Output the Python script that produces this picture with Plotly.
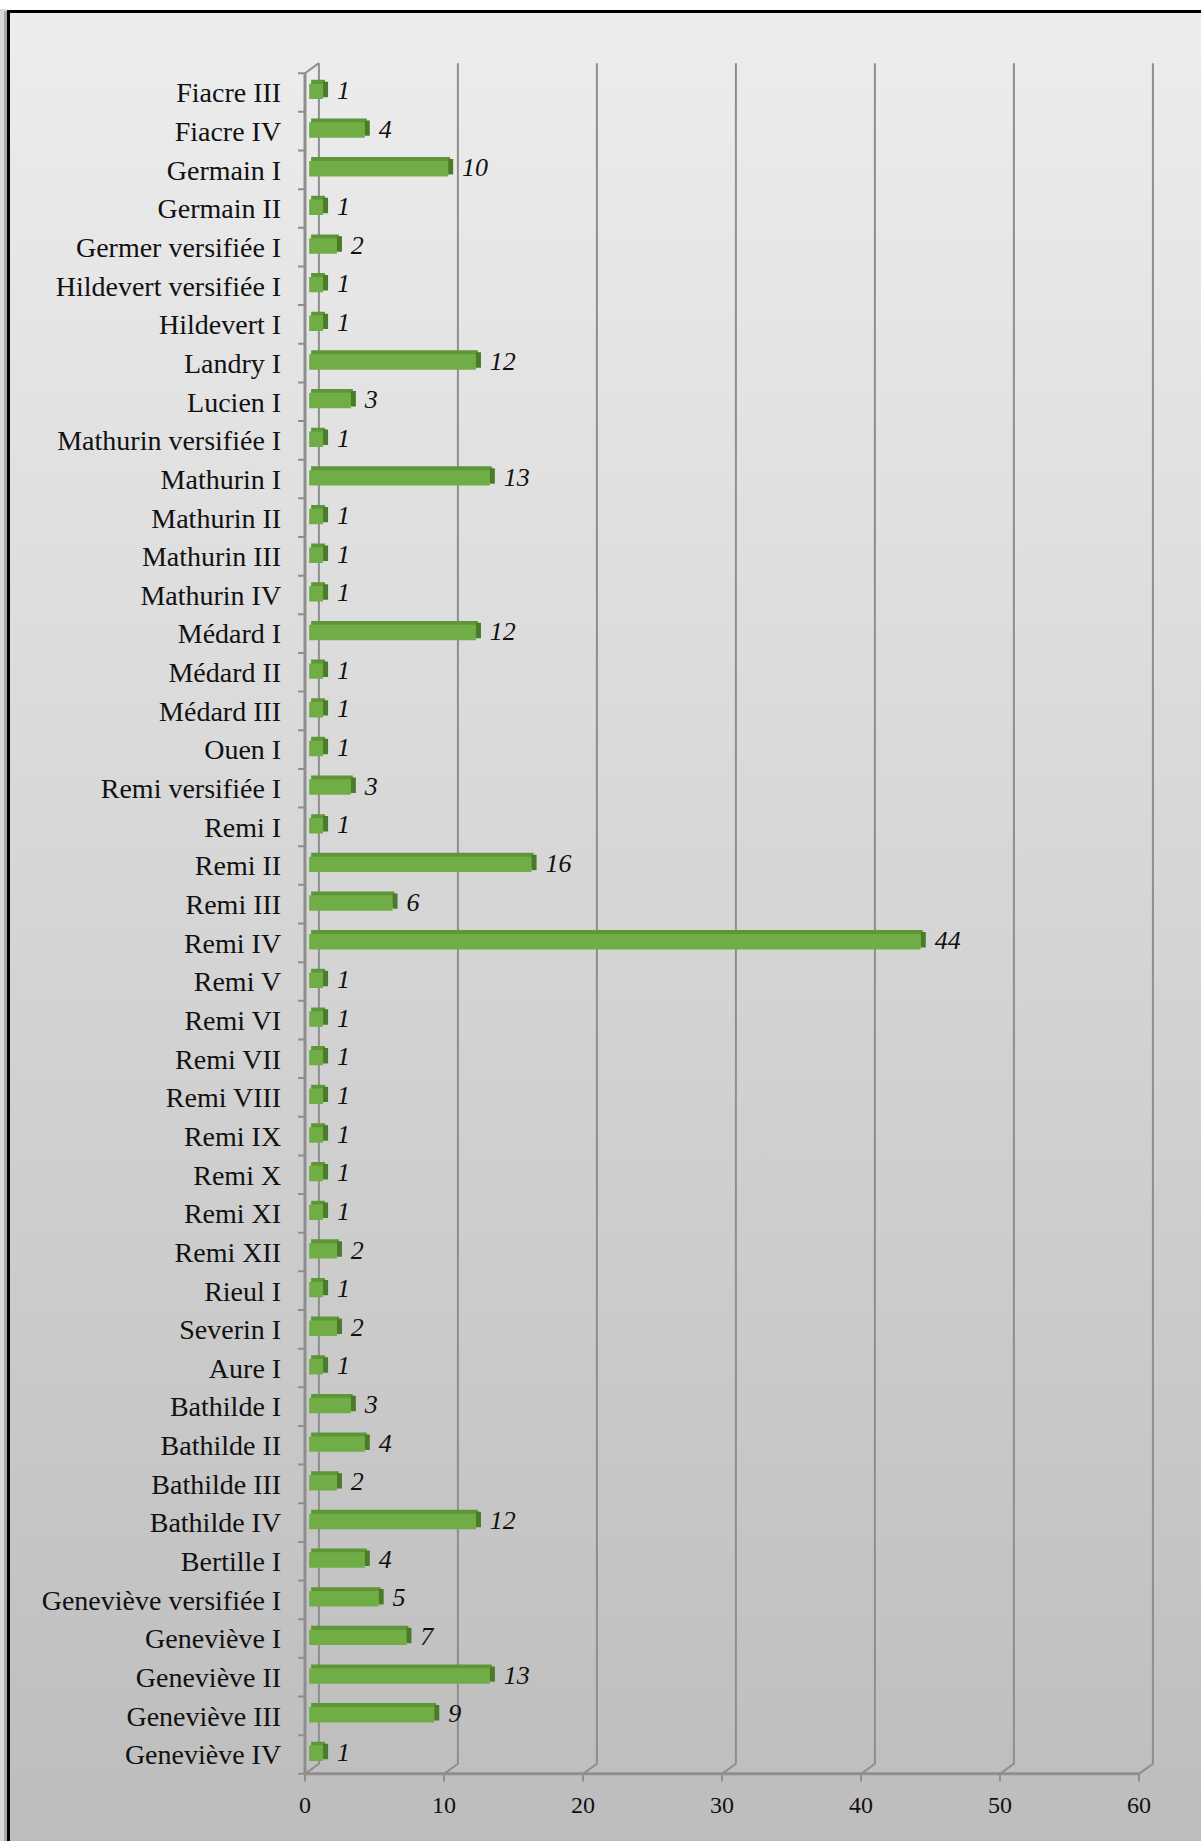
import plotly.graph_objects as go

# ---------------- data ----------------
names = ["Fiacre III", "Fiacre IV", "Germain I", "Germain II", "Germer versifiée I",
         "Hildevert versifiée I", "Hildevert I", "Landry I", "Lucien I",
         "Mathurin versifiée I", "Mathurin I", "Mathurin II", "Mathurin III",
         "Mathurin IV", "Médard I", "Médard II", "Médard III", "Ouen I",
         "Remi versifiée I", "Remi I", "Remi II", "Remi III", "Remi IV", "Remi V",
         "Remi VI", "Remi VII", "Remi VIII", "Remi IX", "Remi X", "Remi XI",
         "Remi XII", "Rieul I", "Severin I", "Aure I", "Bathilde I", "Bathilde II",
         "Bathilde III", "Bathilde IV", "Bertille I", "Geneviève versifiée I",
         "Geneviève I", "Geneviève II", "Geneviève III", "Geneviève IV"]
values = [1, 4, 10, 1, 2, 1, 1, 12, 3, 1, 13, 1, 1, 1, 12, 1, 1, 1, 3, 1, 16, 6, 44,
          1, 1, 1, 1, 1, 1, 1, 2, 1, 2, 1, 3, 4, 2, 12, 4, 5, 7, 13, 9, 1]
x_ticks = [0, 10, 20, 30, 40, 50, 60]

# ---------------- layout geometry (pixels) ----------------
W, H = 1201, 1841
X0_PX, PXU_X = 305.0, 13.9      # pixel of value 0, pixels per unit
Y0_PX, PXU_Y = 1754.5, 38.65    # pixel of last category centre, pixels per category
XMIN, XMAX = -1.5, 62.5
YMIN, YMAX = -0.8, 43.95
DX, DY = 1.0, 0.26              # 3-D depth offsets (units / categories)

xdom = [(X0_PX + XMIN * PXU_X) / W, (X0_PX + XMAX * PXU_X) / W]
ydom = [1 - (Y0_PX - YMIN * PXU_Y) / H, 1 - (Y0_PX - YMAX * PXU_Y) / H]

n = len(names)
pos = [n - 1 - i for i in range(n)]

FONT = "Liberation Serif"
GRID = "#8e8e8e"

fig = go.Figure()

# ---- background gradient (subplot 1, whole page) ----
bx0 = 10 / W
by1 = 1 - 13 / H
fig.add_trace(go.Scatter(
    x=[bx0, 1, 1, bx0, bx0], y=[0, 0, by1, by1, 0], mode="lines",
    line=dict(width=0), fill="toself",
    fillgradient=dict(type="vertical", colorscale=[[0, "#bdbdbd"], [1, "#ededed"]],
                      start=0, stop=by1),
    hoverinfo="skip", showlegend=False, xaxis="x", yaxis="y"))

# ---- 3-D frame / grid lines (subplot 2) ----
top_front = n - 0.5
bot_front = -0.5
gx, gy = [], []
for t in x_ticks:
    gx += [t, t + DX, t + DX, None]
    gy += [bot_front, bot_front + DY, top_front + DY, None]
gx += [0, DX, None]
gy += [top_front, top_front + DY, None]
for k in range(n + 1):
    gx += [-0.5, 0, None]
    gy += [k - 0.5, k - 0.5, None]
for t in x_ticks:
    gx += [t, t, None]
    gy += [bot_front, bot_front - 0.2, None]
fig.add_trace(go.Scatter(x=gx, y=gy, mode="lines", line=dict(color=GRID, width=2),
                         hoverinfo="skip", showlegend=False, xaxis="x2", yaxis="y2"))
fig.add_trace(go.Scatter(x=[0, 0, None, 0, x_ticks[-1]],
                         y=[top_front, bot_front, None, bot_front, bot_front],
                         mode="lines", line=dict(color=GRID, width=3),
                         hoverinfo="skip", showlegend=False, xaxis="x2", yaxis="y2"))

# ---- bars (subplot 3): top face, side face, front face ----
BASE = 0.3
SIDE = 0.36
fig.add_trace(go.Bar(orientation="h", y=pos, x=values, base=BASE + 0.14,
                     width=0.4, offset=-0.07, marker=dict(color="#5c9636", line=dict(width=0)),
                     hoverinfo="skip", showlegend=False, xaxis="x3", yaxis="y3"))
fig.add_trace(go.Bar(orientation="h", y=pos, x=[SIDE] * n, base=[BASE + v for v in values],
                     width=0.4, offset=-0.12, marker=dict(color="#4a7b29", line=dict(width=0)),
                     hoverinfo="skip", showlegend=False, xaxis="x3", yaxis="y3"))
fig.add_trace(go.Bar(orientation="h", y=pos, x=values, base=BASE,
                     width=0.4, offset=-0.17, marker=dict(color="#70ad47", line=dict(width=0)),
                     showlegend=False, xaxis="x3", yaxis="y3"))
fig.add_trace(go.Scatter(x=[v + BASE + 1.0 for v in values], y=pos, mode="text",
                         text=[str(v) for v in values], textposition="middle right",
                         textfont=dict(family=FONT, size=26, color="#111111", style="italic"),
                         cliponaxis=False, hoverinfo="skip", showlegend=False,
                         xaxis="x3", yaxis="y3"))

hidden = dict(visible=False, showgrid=False, zeroline=False, fixedrange=True)
fig.update_layout(
    width=W, height=H, margin=dict(l=0, r=0, t=0, b=0),
    paper_bgcolor="white", plot_bgcolor="rgba(0,0,0,0)",
    barmode="overlay", showlegend=False,
    xaxis=dict(domain=[0, 1], range=[0, 1], **hidden),
    yaxis=dict(domain=[0, 1], range=[0, 1], **hidden),
    xaxis2=dict(domain=xdom, range=[XMIN, XMAX], anchor="y2", **hidden),
    yaxis2=dict(domain=ydom, range=[YMIN, YMAX], anchor="x2", **hidden),
    xaxis3=dict(domain=xdom, range=[XMIN, XMAX], anchor="y3", showgrid=False,
                zeroline=False, showline=False, tickvals=x_ticks, ticks="",
                ticklabelstandoff=3,
                tickfont=dict(family=FONT, size=24, color="#111111")),
    yaxis3=dict(domain=ydom, range=[YMIN, YMAX], anchor="x3", showgrid=False,
                zeroline=False, showline=False, tickvals=pos, ticktext=names,
                ticks="", ticklabelstandoff=2,
                tickfont=dict(family=FONT, size=28, color="#111111")),
    shapes=[
        dict(type="rect", xref="paper", yref="paper", x0=0, x1=7 / W, y0=0, y1=1 - 9 / H,
             fillcolor="#d9d9d9", line=dict(width=0), layer="below"),
        dict(type="rect", xref="paper", yref="paper", x0=4 / W, x1=7 / W, y0=0, y1=1 - 11 / H,
             fillcolor="#a8a8a8", line=dict(width=0), layer="below"),
        dict(type="line", xref="paper", yref="paper", x0=8.5 / W, x1=8.5 / W,
             y0=0, y1=1 - 10 / H, line=dict(color="black", width=3)),
        dict(type="line", xref="paper", yref="paper", x0=7 / W, x1=1,
             y0=1 - 11.5 / H, y1=1 - 11.5 / H, line=dict(color="black", width=3)),
    ],
)

fig.write_html("out.html", config={"displayModeBar": False},
               post_script="document.body.style.margin='0';")
